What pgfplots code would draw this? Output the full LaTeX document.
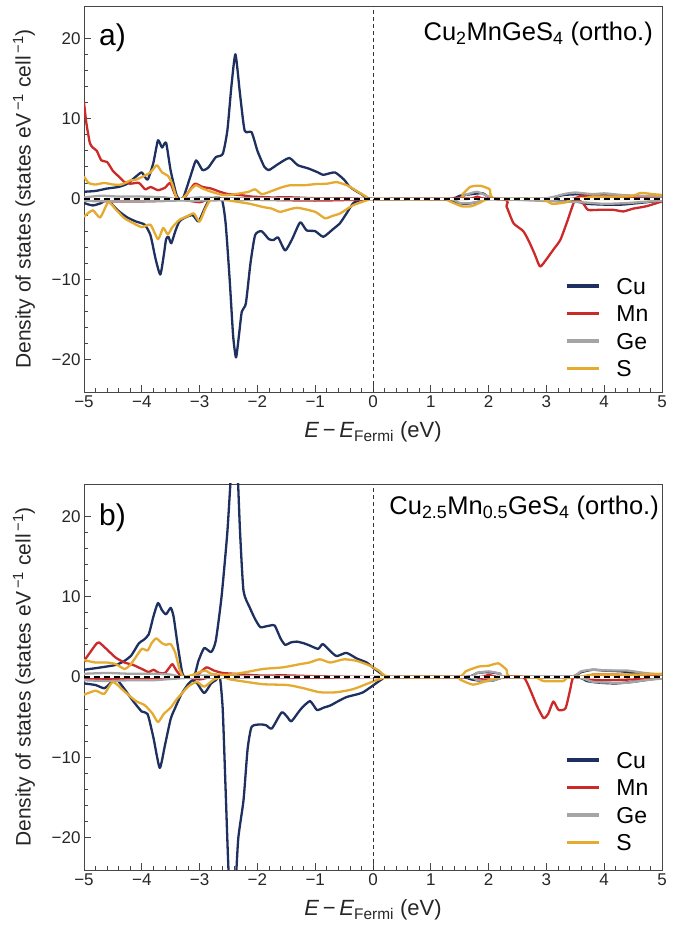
\documentclass[border=0pt]{standalone}
\usepackage{pgfplots}
\pgfplotsset{compat=1.18}
\usepackage{fontspec}
\setmainfont{Liberation Sans}

\definecolor{cuc}{RGB}{30,48,95}
\definecolor{mnc}{RGB}{204,42,40}
\definecolor{gec}{RGB}{165,165,165}
\definecolor{sc}{RGB}{229,170,48}
\definecolor{framec}{RGB}{70,70,70}

\pgfplotsset{
  dos/.style={
    scale only axis, width=578bp, height=386bp,
    xmin=-5, xmax=5, ymin=-24, ymax=24,
    axis line style={framec, line width=0.9bp},
    xtick={-5,...,5}, xticklabels={−5,−4,−3,−2,−1,0,1,2,3,4,5},
    ytick={-20,-10,0,10,20}, yticklabels={−20,−10,0,10,20},
    minor x tick num=4, minor y tick num=4,
    tick align=inside, xtick pos=bottom, ytick pos=left,
    major tick length=7bp, minor tick length=4bp,
    tick style={framec, line width=0.7bp},
    tick label style={font=\fontsize{17bp}{20bp}\selectfont, text=black!85},
    xlabel={\textit{E}\,−\,\textit{E}\textsubscript{Fermi} (eV)},
    ylabel={Density of states (states eV\textsuperscript{\,−1} cell\textsuperscript{\,−1})},
    every axis x label/.style={at={(rel axis cs:0.5,0)}, anchor=north, yshift=-29bp, inner sep=0pt,
      font=\fontsize{22bp}{26bp}\selectfont, text=black!85},
    every axis y label/.style={at={(rel axis cs:0,0.5)}, anchor=center, rotate=90, yshift=60bp, inner sep=0pt,
      font=\fontsize{21bp}{25bp}\selectfont, text=black!85},
    legend cell align=left,
    legend style={draw=none, fill=none, inner sep=0pt, outer sep=0pt, row sep=10.5bp, column sep=16bp,
      font=\fontsize{23bp}{27bp}\selectfont,
      nodes={inner sep=0pt, text height=17bp, text depth=0bp}, anchor=north west},
    legend image code/.code={\draw[#1, line width=3.5bp] (0bp,0bp) -- (32bp,0bp);},
    every axis plot/.append style={line width=2.3bp, smooth, tension=0.35, line join=round},
  }
}

\begin{document}
\begin{tikzpicture}
\path[use as bounding box] (0,0) rectangle (678bp,928bp);

% ---------- panel a ----------
\begin{axis}[dos, at={(84bp,536bp)}, anchor=south west,
  legend style={at={(rel axis cs:0.832,0.297)}}]
\addplot[cuc] coordinates {(-5,0.9) (-4.8,1.0) (-4.6,1.3) (-4.4,1.5) (-4.25,1.9) (-4.1,2.8) (-4.0,3.3) (-3.9,2.4) (-3.8,4.5) (-3.72,7.3) (-3.65,6.4) (-3.58,7.0) (-3.5,3.5) (-3.4,0.5) (-3.35,0) (-3.28,0.2) (-3.15,3.0) (-3.06,4.8) (-2.95,3.6) (-2.85,3.9) (-2.72,5.2) (-2.6,5.6) (-2.52,8.5) (-2.45,14) (-2.38,18) (-2.3,13) (-2.22,8.5) (-2.1,8.3) (-2.0,6) (-1.88,4.0) (-1.8,3.6) (-1.65,4.3) (-1.45,5.1) (-1.3,4.2) (-1.12,3.8) (-0.95,3.3) (-0.86,3.0) (-0.66,3.3) (-0.5,2.4) (-0.4,1.5) (-0.2,0.6) (0,0) (1.3,0) (1.5,0.4) (1.7,0.6) (1.9,0.7) (2.1,0) (3.0,0.05) (3.3,0.5) (3.6,0.6) (3.9,0.5) (4.2,0.4) (4.5,0.3) (4.8,0.2) (5,0.1)};
\addlegendentry{Cu}
\addplot[mnc] coordinates {(-5,12.0) (-4.96,9.5) (-4.9,7.0) (-4.85,6.4) (-4.78,6.0) (-4.7,4.8) (-4.6,4.6) (-4.5,3.5) (-4.4,2.8) (-4.3,2.1) (-4.2,1.9) (-4.05,2.0) (-3.94,1.2) (-3.85,1.5) (-3.72,1.1) (-3.6,1.4) (-3.51,2.0) (-3.44,0.8) (-3.38,0) (-3.28,0) (-3.18,1.0) (-3.08,1.9) (-2.95,1.5) (-2.8,1.3) (-2.65,0.9) (-2.5,0.6) (-2.3,0.5) (-2.1,0.3) (-1.8,0.2) (-1.4,0.2) (-1,0.1) (-0.5,0.1) (0,0) (1.6,0) (1.8,0.3) (2.0,0) (3.4,0) (3.6,0.4) (4.0,0.3) (4.5,0.2) (5,0.1)};
\addlegendentry{Mn}
\addplot[gec] coordinates {(-5,0.2) (-4.7,0.4) (-4.4,0.3) (-4.0,0.3) (-3.6,0.2) (-3.38,0) (-3,0.2) (-2.5,0.1) (-1.5,0.1) (0,0) (1.4,0) (1.6,0.5) (1.8,0.9) (2.0,0.3) (2.2,0) (3.0,0.1) (3.3,0.6) (3.5,0.8) (3.8,0.6) (4.0,0.7) (4.3,0.5) (4.6,0.4) (5,0.3)};
\addlegendentry{Ge}
\addplot[sc] coordinates {(-5,2.8) (-4.92,2.0) (-4.8,1.8) (-4.65,2.0) (-4.5,1.8) (-4.35,1.8) (-4.2,2.3) (-4.1,2.4) (-3.95,2.9) (-3.85,3.3) (-3.74,4.2) (-3.65,3.3) (-3.55,2.9) (-3.48,2.0) (-3.42,0.6) (-3.38,0) (-3.3,0) (-3.2,0.8) (-3.07,1.7) (-2.95,1.3) (-2.8,0.9) (-2.6,0.5) (-2.47,0.5) (-2.3,0.7) (-2.15,0.9) (-2.04,1.2) (-1.92,0.6) (-1.75,1.0) (-1.6,1.4) (-1.44,1.7) (-1.2,1.7) (-1.0,1.85) (-0.8,1.9) (-0.63,2.1) (-0.45,1.7) (-0.35,1.3) (-0.12,0.3) (0,0) (1.45,0) (1.55,0.6) (1.68,1.5) (1.85,1.65) (2.02,1.2) (2.13,0) (3.5,0) (3.8,0.3) (4.2,0.3) (4.5,0.4) (4.63,0.75) (4.85,0.6) (5,0.5)};
\addlegendentry{S}
% spin down
\addplot[cuc, forget plot] coordinates {(-5,-0.5) (-4.85,-0.8) (-4.7,-0.5) (-4.6,0) (-4.5,-0.8) (-4.4,-1.5) (-4.25,-2.3) (-4.1,-2.8) (-3.95,-3.2) (-3.85,-4.5) (-3.76,-7.5) (-3.68,-9.4) (-3.62,-7) (-3.58,-5.0) (-3.54,-4.7) (-3.49,-5.5) (-3.42,-4) (-3.35,-2.8) (-3.25,-2.3) (-3.12,-2.0) (-3.02,-2.8) (-2.92,-1.3) (-2.82,0) (-2.62,0) (-2.55,-3) (-2.48,-10) (-2.42,-17) (-2.37,-19.7) (-2.32,-17) (-2.27,-14) (-2.2,-13) (-2.12,-8) (-2.04,-4.5) (-1.93,-4.0) (-1.8,-5.0) (-1.72,-5.1) (-1.64,-4.8) (-1.52,-6.4) (-1.4,-5.0) (-1.26,-2.9) (-1.15,-3.9) (-1.0,-4.0) (-0.86,-4.7) (-0.7,-3.8) (-0.57,-3.0) (-0.45,-1.7) (-0.34,-0.5) (-0.2,-0.1) (0,0) (1.2,0) (1.4,-0.4) (1.6,-0.6) (1.8,-0.4) (2.0,0) (2.8,0) (3.0,-0.2) (3.5,-0.3) (3.7,-0.6) (4.0,-0.7) (4.3,-0.7) (4.6,-0.5) (5,-0.2)};
\addplot[mnc, forget plot] coordinates {(-5,-0.2) (-4.5,-0.3) (-4,-0.3) (-3.5,-0.2) (-3.38,0) (-3.0,-0.4) (-2.8,0) (-2,-0.1) (-1,-0.2) (-0.3,-0.1) (0,0) (2.2,0) (2.31,-0.95) (2.43,-3.0) (2.6,-4.0) (2.7,-5.3) (2.8,-6.9) (2.89,-8.4) (3.0,-7.5) (3.12,-6.3) (3.24,-5.1) (3.35,-3.0) (3.47,-0.5) (3.52,0) (3.63,-0.5) (3.72,-1.35) (3.9,-1.35) (4.16,-1.35) (4.33,-1.55) (4.5,-1.2) (4.73,-0.9) (5,-0.3)};
\addplot[gec, forget plot] coordinates {(-5,-0.2) (-4.5,-0.3) (-4,-0.3) (-3.4,-0.2) (-3,-0.2) (-2,-0.1) (0,0) (1.3,0) (1.5,-0.5) (1.7,-0.5) (1.9,-0.2) (2.1,0) (2.8,-0.2) (3.2,-0.3) (3.6,-0.4) (4.0,-0.6) (4.4,-0.5) (5,-0.2)};
\addplot[sc, forget plot] coordinates {(-5,-2.2) (-4.85,-1.4) (-4.72,-2.3) (-4.58,-0.4) (-4.45,-1.3) (-4.3,-2.4) (-4.15,-3.0) (-4.0,-3.5) (-3.85,-3.2) (-3.72,-5.0) (-3.63,-3.6) (-3.55,-4.4) (-3.47,-3.5) (-3.35,-2.6) (-3.2,-2.1) (-3.1,-1.8) (-3.0,-2.8) (-2.9,-1.2) (-2.8,0) (-2.6,0) (-2.47,-0.2) (-2.13,-0.6) (-1.9,-1.0) (-1.75,-1.2) (-1.61,-1.6) (-1.45,-1.3) (-1.3,-1.1) (-1.0,-1.6) (-0.83,-2.4) (-0.7,-2.1) (-0.57,-1.8) (-0.35,-0.8) (-0.08,-0.1) (0,0) (1.2,0) (1.3,-0.2) (1.53,-0.9) (1.7,-0.9) (1.87,-0.4) (2.0,0) (2.9,0) (3.1,-0.6) (3.35,-0.4) (3.5,0) (5,0)};
% reference lines
\addplot[white, line width=1.6bp, sharp plot, forget plot] coordinates {(-5,0) (5,0)};
\addplot[black, line width=1.6bp, sharp plot, dash pattern=on 6bp off 4bp, forget plot] coordinates {(-5,0) (5,0)};
\addplot[black!80, line width=0.9bp, sharp plot, dash pattern=on 4bp off 3bp, forget plot] coordinates {(0,-24) (0,24)};
\node[anchor=north west, inner sep=0pt, font=\fontsize{30bp}{34bp}\selectfont] at (rel axis cs:0,1) [xshift=15bp, yshift=-18bp] {a)};
\node[anchor=north east, inner sep=0pt, font=\fontsize{25.5bp}{30bp}\selectfont] at (rel axis cs:1,1) [xshift=-9bp, yshift=-16bp] {Cu\textsubscript{2}MnGeS\textsubscript{4} (ortho.)};
\end{axis}

% ---------- panel b ----------
\begin{axis}[dos, at={(84bp,58bp)}, anchor=south west,
  legend style={at={(rel axis cs:0.832,0.307)}}]
\addplot[cuc] coordinates {(-5,0.9) (-4.7,1.2) (-4.45,1.5) (-4.3,2.0) (-4.18,2.7) (-4.05,4.2) (-3.97,4.6) (-3.88,5.3) (-3.8,7.5) (-3.72,9.2) (-3.65,8.3) (-3.58,7.8) (-3.5,8.6) (-3.45,7.5) (-3.38,4) (-3.3,0.5) (-3.25,0) (-3.1,0) (-3.02,2.0) (-2.92,3.6) (-2.8,3.1) (-2.72,4.5) (-2.62,10) (-2.52,18) (-2.45,26) (-2.39,30) (-2.34,25) (-2.3,18) (-2.24,10.7) (-2.13,8.6) (-2.04,7.2) (-1.95,6.2) (-1.85,6.3) (-1.78,6.4) (-1.70,6.4) (-1.6,4.8) (-1.52,4.0) (-1.42,4.3) (-1.32,4.4) (-1.2,4.2) (-1.09,3.9) (-0.95,3.5) (-0.87,4.1) (-0.75,3.3) (-0.63,2.6) (-0.46,3.0) (-0.28,2.3) (-0.11,1.8) (0.03,1.0) (0.15,0.4) (0.29,0) (1.6,0) (1.8,0.5) (2.0,0.6) (2.2,0.4) (2.3,0) (3.4,0) (3.6,0.6) (3.8,0.9) (4.0,0.8) (4.3,0.7) (4.5,0.5) (4.8,0.2) (5,0.1)};
\addlegendentry{Cu}
\addplot[mnc] coordinates {(-5,2.0) (-4.9,3.0) (-4.8,4.0) (-4.74,4.3) (-4.6,3.4) (-4.45,2.4) (-4.3,1.8) (-4.15,1.5) (-3.97,0.9) (-3.88,0.6) (-3.8,0.9) (-3.7,0.5) (-3.6,0.5) (-3.52,1.2) (-3.47,1.6) (-3.4,0.8) (-3.3,0) (-3.1,0) (-3.0,0.5) (-2.88,1.2) (-2.75,0.8) (-2.6,0.5) (-2.4,0.4) (-2.0,0.2) (-1.5,0.2) (-1,0.1) (0,0) (1.8,0) (2.0,0.3) (2.2,0) (3.6,0) (3.8,0.3) (4.2,0.3) (4.6,0.2) (5,0.1)};
\addlegendentry{Mn}
\addplot[gec] coordinates {(-5,0.4) (-4.6,0.5) (-4.2,0.4) (-3.8,0.4) (-3.5,0.3) (-3.3,0) (-3,0.2) (-2.5,0.1) (0,0) (1.6,0) (1.8,0.5) (2.0,0.7) (2.2,0.4) (2.3,0) (3.4,0) (3.6,0.7) (3.8,0.9) (4.1,0.8) (4.4,0.8) (4.7,0.5) (5,0.3)};
\addlegendentry{Ge}
\addplot[sc] coordinates {(-5,2.1) (-4.8,1.8) (-4.6,1.8) (-4.45,1.6) (-4.3,1.0) (-4.2,1.5) (-4.1,2.5) (-4.0,3.5) (-3.9,3.3) (-3.83,4.2) (-3.75,4.8) (-3.65,4.2) (-3.58,4.0) (-3.5,4.1) (-3.42,3.0) (-3.35,1.0) (-3.28,0) (-3.15,0.2) (-3.0,0.6) (-2.9,0.8) (-2.8,0.4) (-2.65,0.3) (-2.47,0.3) (-2.2,0.6) (-1.9,1.0) (-1.56,1.2) (-1.26,1.6) (-1.1,1.8) (-0.92,2.2) (-0.74,1.8) (-0.5,2.2) (-0.28,2.0) (-0.05,1.4) (0.1,0.8) (0.3,0) (1.45,0) (1.6,0.7) (1.83,1.3) (2.0,1.4) (2.17,1.7) (2.31,0.9) (2.4,0) (3.5,0) (3.8,0.3) (4.2,0.3) (4.6,0.3) (5,0.4)};
\addlegendentry{S}
% spin down
\addplot[cuc, forget plot] coordinates {(-5,-0.8) (-4.8,-1.0) (-4.65,-1.4) (-4.55,-0.8) (-4.46,-0.1) (-4.3,-1.5) (-4.15,-3.0) (-4.0,-4.3) (-3.9,-4.6) (-3.8,-7.5) (-3.69,-11.3) (-3.6,-8.5) (-3.5,-5.2) (-3.42,-3.8) (-3.32,-2.2) (-3.2,-0.9) (-3.12,-0.4) (-3.04,-0.8) (-2.92,-2.0) (-2.8,-0.8) (-2.72,-0.4) (-2.65,0) (-2.6,-4) (-2.55,-14) (-2.5,-24) (-2.44,-30) (-2.38,-26) (-2.33,-20) (-2.24,-15.3) (-2.17,-9) (-2.10,-6.2) (-1.95,-5.9) (-1.85,-6.0) (-1.75,-6.4) (-1.58,-4.4) (-1.48,-5.0) (-1.41,-5.5) (-1.25,-4.0) (-1.09,-3.0) (-0.97,-4.1) (-0.85,-3.8) (-0.74,-3.55) (-0.6,-3.0) (-0.46,-2.5) (-0.3,-2.2) (-0.17,-1.9) (0.05,-0.8) (0.15,-0.3) (0.29,0) (1.5,0) (1.7,-0.3) (1.9,-0.5) (2.1,-0.4) (2.3,0) (3.5,0) (3.7,-0.5) (3.9,-0.7) (4.2,-0.8) (4.5,-0.6) (4.8,-0.3) (5,-0.1)};
\addplot[mnc, forget plot] coordinates {(-5,-0.2) (-4.5,-0.3) (-4,-0.2) (-3.3,0) (-3.0,-0.3) (-2.7,0) (-1,-0.1) (0,0) (1.7,0) (1.9,-0.3) (2.1,-0.3) (2.3,0) (2.6,0) (2.72,-1.6) (2.83,-3.5) (2.95,-5.1) (3.03,-4.6) (3.12,-3.05) (3.21,-4.1) (3.33,-3.9) (3.41,-1.6) (3.47,0) (3.7,-0.3) (4.0,-0.4) (4.5,-0.3) (5,-0.1)};
\addplot[gec, forget plot] coordinates {(-5,-0.4) (-4.6,-0.5) (-4.2,-0.4) (-3.8,-0.4) (-3.4,-0.2) (-3,-0.1) (0,0) (1.6,0) (1.8,-0.4) (2.0,-0.5) (2.2,-0.2) (2.3,0) (3.5,0) (3.8,-0.6) (4.1,-0.7) (4.4,-0.7) (4.7,-0.4) (5,-0.2)};
\addplot[sc, forget plot] coordinates {(-5,-2.2) (-4.8,-1.7) (-4.65,-2.1) (-4.5,-0.6) (-4.3,-1.8) (-4.1,-3.0) (-3.95,-3.5) (-3.82,-4.5) (-3.72,-5.6) (-3.62,-4.6) (-3.5,-3.8) (-3.4,-2.8) (-3.3,-2.0) (-3.2,-1.2) (-3.05,-0.6) (-2.92,-1.2) (-2.75,-0.3) (-2.6,0) (-2.47,-0.3) (-2.2,-0.6) (-1.9,-0.9) (-1.48,-1.0) (-1.2,-1.4) (-0.92,-1.9) (-0.63,-1.9) (-0.34,-1.5) (-0.05,-0.7) (0.1,-0.3) (0.3,0) (1.45,0) (1.5,-0.3) (1.73,-0.95) (1.96,-0.5) (2.13,-0.1) (2.3,0) (2.8,0) (2.95,-0.5) (3.3,-0.5) (3.45,0) (5,0)};
% reference lines
\addplot[white, line width=1.6bp, sharp plot, forget plot] coordinates {(-5,0) (5,0)};
\addplot[black, line width=1.6bp, sharp plot, dash pattern=on 6bp off 4bp, forget plot] coordinates {(-5,0) (5,0)};
\addplot[black!80, line width=0.9bp, sharp plot, dash pattern=on 4bp off 3bp, forget plot] coordinates {(0,-24) (0,24)};
\node[anchor=north west, inner sep=0pt, font=\fontsize{30bp}{34bp}\selectfont] at (rel axis cs:0,1) [xshift=15bp, yshift=-20bp] {b)};
\node[anchor=north east, inner sep=0pt, font=\fontsize{25.5bp}{30bp}\selectfont] at (rel axis cs:1,1) [xshift=-3bp, yshift=-12bp] {Cu\textsubscript{2.5}Mn\textsubscript{0.5}GeS\textsubscript{4} (ortho.)};
\end{axis}
\end{tikzpicture}
\end{document}
